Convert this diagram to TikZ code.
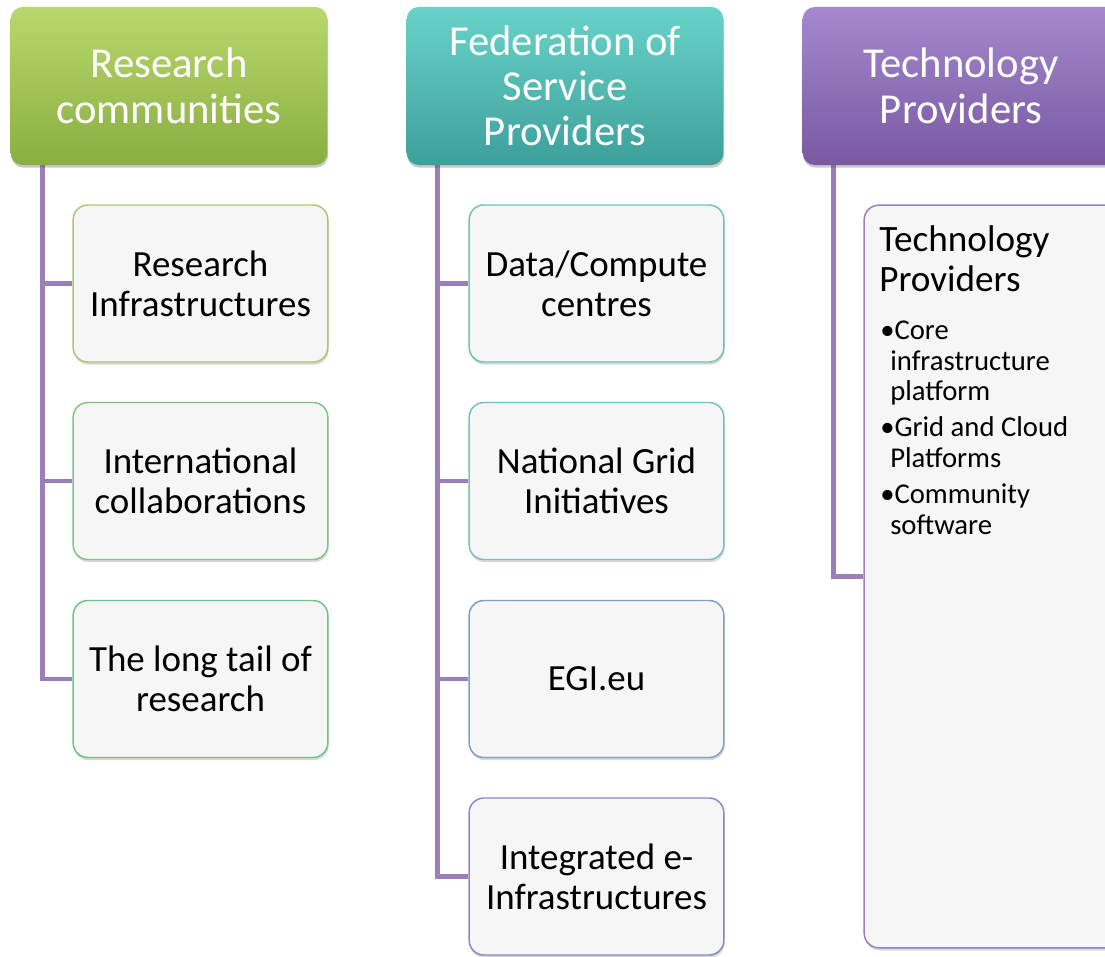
\documentclass[tikz,border=0pt]{standalone}
\usepackage{fontspec}
\setmainfont{Carlito}
\usetikzlibrary{shadows,backgrounds,calc}
\definecolor{conn}{HTML}{9A7FBA}
\definecolor{gtop}{HTML}{B8D86E}\definecolor{gbot}{HTML}{8AAE42}
\definecolor{ttop}{HTML}{68D3C9}\definecolor{tbot}{HTML}{3DA09A}
\definecolor{ptop}{HTML}{A588CE}\definecolor{pbot}{HTML}{7859A2}
\definecolor{cfill}{HTML}{F6F6F6}
\definecolor{ba}{HTML}{A9C96E}\definecolor{bb}{HTML}{80C47E}\definecolor{bc}{HTML}{6CC48A}
\definecolor{bd}{HTML}{6DC4B0}\definecolor{be}{HTML}{74BEC8}\definecolor{bf}{HTML}{7C9ECB}
\definecolor{bg}{HTML}{8888C6}\definecolor{bh}{HTML}{9A80C0}
\tikzset{
  hdr/.style={rectangle, rounded corners=9pt, minimum width=237.5pt, minimum height=118.5pt,
    inner sep=0pt, align=center, text=white, font=\fontsize{32}{34}\selectfont,
    drop shadow={shadow xshift=0.6pt, shadow yshift=-2pt, opacity=0.3, fill=black!70}},
  child/.style={rectangle, rounded corners=11pt, minimum width=191pt, minimum height=117.75pt,
    inner sep=0pt, align=center, fill=cfill, line width=1.1pt, font=\fontsize{27.7}{30}\selectfont,
    drop shadow={shadow xshift=0.6pt, shadow yshift=-2pt, opacity=0.25, fill=black!60}},
  link/.style={draw=conn, line width=3.6pt}
}
\begin{document}
\begin{tikzpicture}[x=0.75pt,y=-0.75pt]
\useasboundingbox (0,0) rectangle (1105,956);
\clip (0,0) rectangle (1105,956);
% headers
\node[hdr, top color=gtop, bottom color=gbot] (h1) at (169,86) {Research\\communities};
\node[hdr, top color=ttop, bottom color=tbot] (h2) at (565,86) {Federation of\\Service\\Providers};
\node[hdr, top color=ptop, bottom color=pbot] (h3) at (961,86) {Technology\\Providers};
% column 1
\node[child, draw=ba] (c1) at (200.5,283.5) {Research\\Infrastructures};
\node[child, draw=bb] (c2) at (200.5,481) {International\\collaborations};
\node[child, draw=bc] (c3) at (200.5,679) {The long tail of\\research};
% column 2
\node[child, draw=bd] (d1) at (596.5,283.5) {Data/Compute\\centres};
\node[child, draw=be] (d2) at (596.5,481) {National Grid\\Initiatives};
\node[child, draw=bf] (d3) at (596.5,679) {EGI.eu};
\node[child, draw=bg] (d4) at (596.5,876.5) {Integrated e-\\Infrastructures};
% column 3
\node[child, draw=bh, minimum height=557pt] (t1) at (991.5,576.5) {};
\node[anchor=north west, inner sep=0pt, align=left, font=\fontsize{27.9}{30}\selectfont] (t1title) at (879,225) {Technology\\Providers};
\node[anchor=north west, inner sep=0pt, align=left, font=\fontsize{21.5}{22.6}\selectfont] (t1list) at (880,321)
  {\textbullet Core\\\hspace*{7.5pt}infrastructure\\\hspace*{7.5pt}platform\\[5pt]
   \textbullet Grid and Cloud\\\hspace*{7.5pt}Platforms\\[5pt]
   \textbullet Community\\\hspace*{7.5pt}software};
% connectors
\begin{scope}[on background layer]
\coordinate (v1) at ($(h1.south west)+(32,0)$);
\coordinate (v2) at ($(h2.south west)+(31,0)$);
\coordinate (v3) at ($(h3.south west)+(31,0)$);
\draw[link] (v1) |- (c3.west);
\draw[link] (v1 |- c1.west) -- (c1.west);
\draw[link] (v1 |- c2.west) -- (c2.west);
\draw[link] (v2) |- (d4.west);
\draw[link] (v2 |- d1.west) -- (d1.west);
\draw[link] (v2 |- d2.west) -- (d2.west);
\draw[link] (v2 |- d3.west) -- (d3.west);
\draw[link] (v3) |- (t1.west);
\end{scope}
\end{tikzpicture}
\end{document}
